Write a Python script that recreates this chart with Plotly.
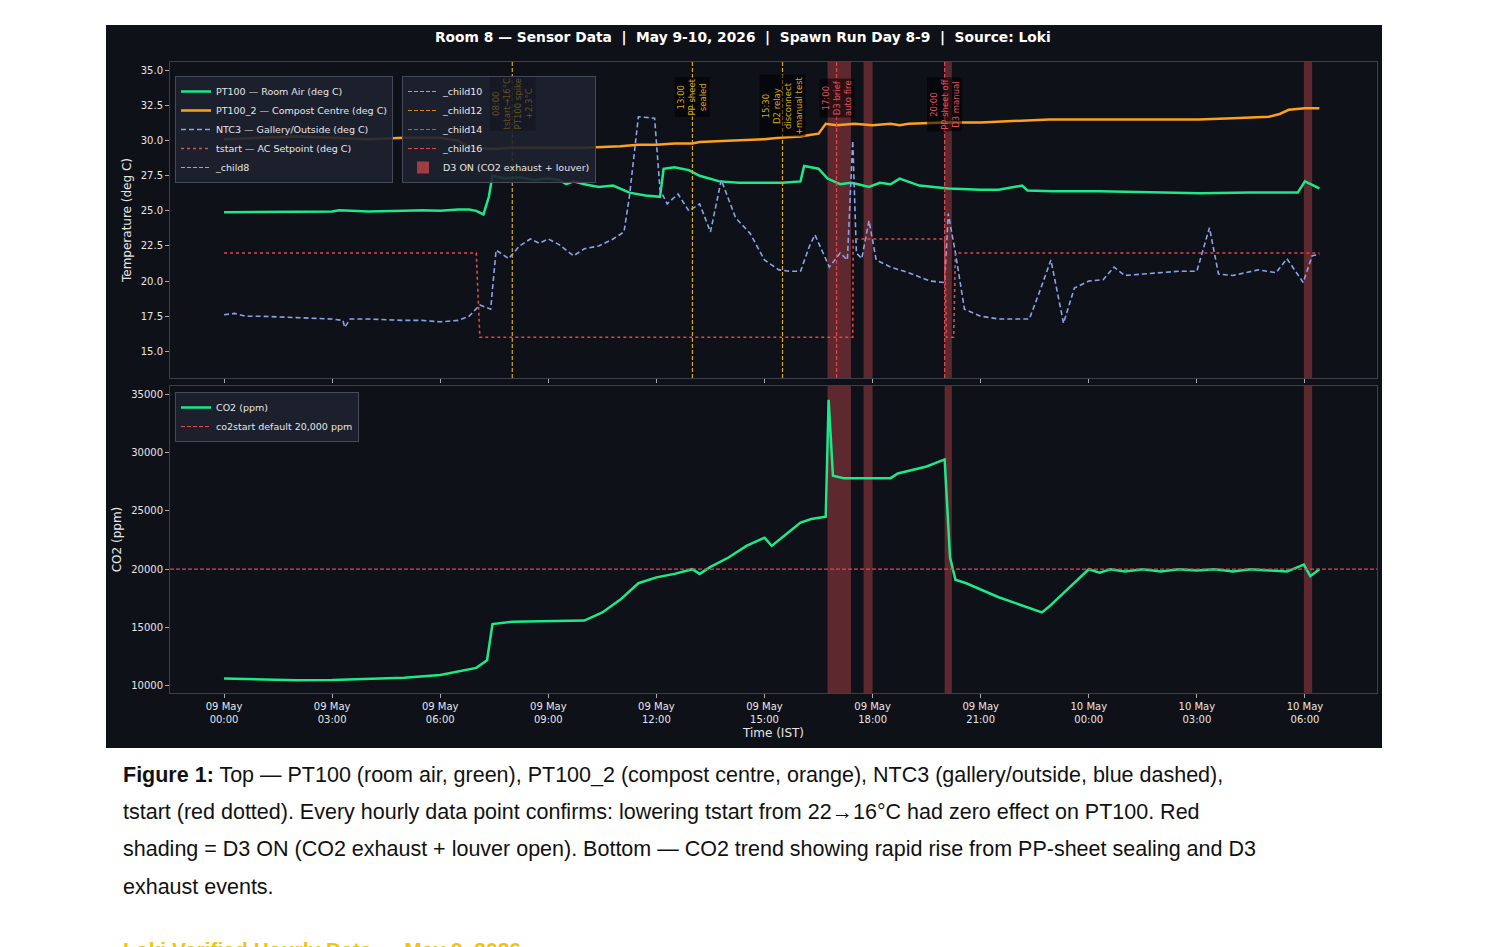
import pandas as pd
import plotly.graph_objects as go

BASE = pd.Timestamp("2026-05-09 00:00")
def T(h):
    return [BASE + pd.Timedelta(hours=x) for x in h]

# ---- data (hour offsets from 09 May 00:00) ----
pt100_h = [0,0.5,1,1.5,2,3,3.2,4,5,5.5,6,6.5,6.8,7.0,7.2,7.35,7.45,7.8,8.2,8.6,9.0,9.3,9.5,9.7,10.0,10.4,10.8,11.25,11.7,12.1,12.2,12.5,12.9,13.2,13.75,14.3,14.9,15.5,16.0,16.1,16.5,16.75,17.1,17.4,17.6,17.9,18.2,18.5,18.75,19.3,20.1,21.0,21.5,22.15,22.3,23.0,24.3,25.7,27.1,28.5,29.8,30.0,30.4]
pt100_v = [24.9,24.9,24.9,24.95,24.9,24.95,25.05,24.95,25.0,25.05,25.0,25.1,25.1,25.0,24.75,26.0,27.5,27.3,27.4,27.2,27.3,27.2,26.9,27.1,26.9,26.7,26.8,26.3,26.1,26.0,28.0,28.1,27.9,27.5,27.1,27.0,27.0,27.0,27.1,28.2,28.0,27.3,26.9,27.0,26.9,26.7,27.0,26.9,27.3,26.8,26.6,26.5,26.5,26.8,26.45,26.4,26.4,26.35,26.25,26.3,26.3,27.1,26.6]

pt100_2_h = [0,1,2,3,4,5,6,6.5,6.8,7.5,8,9,10,11,11.5,12,12.5,13,13.2,14,15,15.4,16,16.25,16.5,16.7,17,17.5,18,18.5,18.75,19,20,21,22,22.9,24,25,26,27.05,28,29,29.3,29.55,30,30.4]
pt100_2_v = [30.1,30.2,30.3,30.2,30.1,30.2,30.2,30.0,29.5,29.4,29.5,29.5,29.5,29.6,29.7,29.7,29.8,29.8,29.9,30.0,30.1,30.2,30.3,30.4,30.5,31.2,31.1,31.2,31.1,31.2,31.1,31.2,31.3,31.3,31.4,31.5,31.5,31.5,31.5,31.5,31.6,31.7,31.9,32.2,32.3,32.3]

ntc3_h = [0,0.3,0.6,1,2,3,3.3,3.35,3.5,4,5,5.5,6,6.5,6.8,7.1,7.4,7.55,7.9,8.2,8.5,8.75,9.0,9.3,9.7,10.0,10.4,10.8,11.1,11.25,11.5,11.95,12.1,12.3,12.6,12.9,13.2,13.5,13.8,14.2,14.6,15.0,15.4,15.7,16.0,16.25,16.4,16.8,17.1,17.3,17.45,17.55,17.7,17.9,18.1,18.5,19.0,19.6,20.0,20.1,20.3,20.55,21.0,21.5,22.0,22.35,22.6,22.95,23.3,23.6,24.0,24.4,24.7,25.0,25.5,26.0,26.5,27.0,27.35,27.6,28.0,28.7,29.2,29.5,29.95,30.2,30.4]
ntc3_v = [17.6,17.7,17.5,17.5,17.4,17.3,17.2,16.7,17.3,17.3,17.2,17.2,17.1,17.2,17.5,18.3,18.0,22.2,21.6,22.5,23.0,22.7,23.0,22.6,21.8,22.3,22.5,23.0,23.5,26.0,31.7,31.6,26.5,25.5,26.2,25.0,25.5,23.5,27.2,24.5,23.4,21.5,20.8,20.7,20.7,22.5,23.3,21.0,22.0,21.5,30.0,22.0,21.6,24.3,21.5,21.0,20.6,20.0,19.9,24.8,22.0,18.0,17.5,17.3,17.3,17.3,19.0,21.5,17.0,19.5,20.0,20.1,21.0,20.4,20.5,20.6,20.7,20.7,23.8,20.5,20.4,20.8,20.6,21.6,19.9,21.8,21.9]

tstart_h = [0,7.0,7.1,17.45,17.46,20.0,20.05,20.25,20.3,30.4]
tstart_v = [22,22,16,16,23,23,16,16,22,22]

co2_h = [0,1,2,3,4,5,6,7,7.3,7.45,8,9,10,10.5,11,11.5,12,12.5,13,13.2,13.5,14,14.5,15,15.2,15.6,16,16.3,16.7,16.78,16.9,17.2,18,18.5,18.7,19.5,20.0,20.15,20.3,20.6,21.5,22.3,22.7,22.9,23.5,24,24.3,24.6,25,25.5,26,26.5,27,27.5,28,28.5,29,29.5,29.97,30.15,30.4]
co2_v = [10650,10600,10500,10520,10600,10700,10950,11550,12200,15300,15500,15550,15600,16300,17400,18800,19300,19600,20000,19600,20200,21000,22000,22700,22000,23000,24000,24300,24500,34500,28000,27800,27800,27800,28200,28800,29400,21000,19100,18800,17600,16700,16300,16800,18500,20000,19700,20000,19800,20000,19800,20000,19900,20000,19800,20000,19900,19800,20400,19400,20000]

tick_h = [0,3,6,9,12,15,18,21,24,27,30]
tick_text = ["09 May<br>00:00","09 May<br>03:00","09 May<br>06:00","09 May<br>09:00","09 May<br>12:00",
             "09 May<br>15:00","09 May<br>18:00","09 May<br>21:00","10 May<br>00:00","10 May<br>03:00","10 May<br>06:00"]
co2_ticks = [10000, 15000, 20000, 25000, 30000, 35000]

event_h = [8.0, 13.0, 15.5, 17.0, 20.0]
event_text = ["08:00<br>tstart→16°C<br>PT100 spike<br>+2.3°C", "13:00<br>PP sheet<br>sealed",
              "15:30<br>D2 relay<br>disconnect<br>+manual test", "17:00<br>D3 brief<br>auto fire",
              "20:00<br>PP sheet off<br>D3 manual"]
event_y = [32.6, 33.1, 32.5, 33.0, 32.6]
d3_start = [16.75, 17.75, 20.0, 29.97]
d3_end = [17.4, 18.0, 20.2, 30.2]

caption = ["<b>Figure 1:</b> Top — PT100 (room air, green), PT100_2 (compost centre, orange), NTC3 (gallery/outside, blue dashed),",
           "tstart (red dotted). Every hourly data point confirms: lowering tstart from 22→16°C had zero effect on PT100. Red",
           "shading = D3 ON (CO2 exhaust + louver open). Bottom — CO2 trend showing rapid rise from PP-sheet sealing and D3",
           "exhaust events."]

# ---- styles ----
BG = "#0e1117"
GREEN = "#1de98b"
ORANGE = "#ffa01c"
BLUE = "#8aa3e8"
RED = "#e0474f"
GOLD = "#d9a91a"
GRID = "#3a3f4a"
TXT = "#e6e6e6"
OFF = 8  # page body margin
W, H = 1489 - OFF, 947 - OFF
px = lambda v: (v - OFF) / W
py = lambda v: 1 - (v - OFF) / H

fig = go.Figure()
fig.add_trace(go.Scatter(x=T(pt100_h), y=pt100_v, mode="lines", line=dict(color=GREEN, width=2.5),
                         name="PT100 — Room Air (deg C)", xaxis="x", yaxis="y", legend="legend"))
fig.add_trace(go.Scatter(x=T(pt100_2_h), y=pt100_2_v, mode="lines", line=dict(color=ORANGE, width=2.5),
                         name="PT100_2 — Compost Centre (deg C)", xaxis="x", yaxis="y", legend="legend"))
fig.add_trace(go.Scatter(x=T(ntc3_h), y=ntc3_v, mode="lines", line=dict(color=BLUE, width=1.6, dash="5px,3px"),
                         name="NTC3 — Gallery/Outside (deg C)", xaxis="x", yaxis="y", legend="legend"))
fig.add_trace(go.Scatter(x=T(tstart_h), y=tstart_v, mode="lines", line=dict(color=RED, width=1.6, dash="dot"),
                         name="tstart — AC Setpoint (deg C)", xaxis="x", yaxis="y", legend="legend"))
for nm, col, lg in [("_child8", GOLD, "legend"), ("_child10", GOLD, "legend2"), ("_child12", "#d9861a", "legend2"),
                    ("_child14", RED, "legend2"), ("_child16", RED, "legend2")]:
    fig.add_trace(go.Scatter(x=[None], y=[None], mode="lines", line=dict(color=col, width=1.2, dash="4px,2px"),
                             name=nm, xaxis="x", yaxis="y", legend=lg))
fig.add_trace(go.Scatter(x=[None], y=[None], mode="markers", marker=dict(symbol="square", size=12, color="rgba(190,70,75,0.8)"),
                         name="D3 ON (CO2 exhaust + louver)", xaxis="x", yaxis="y", legend="legend2"))

fig.add_trace(go.Scatter(x=T(co2_h), y=co2_v, mode="lines", line=dict(color=GREEN, width=2.5),
                         name="CO2 (ppm)", xaxis="x2", yaxis="y2", legend="legend3"))
fig.add_trace(go.Scatter(x=[BASE + pd.Timedelta(hours=-1.5), BASE + pd.Timedelta(hours=32)], y=[20000, 20000],
                         mode="lines", line=dict(color=RED, width=1.2, dash="4px,2px"),
                         name="co2start default 20,000 ppm", xaxis="x2", yaxis="y2", legend="legend3"))

shapes = [dict(type="rect", xref="paper", yref="paper", x0=px(106), x1=px(1382), y0=py(748), y1=py(25),
               fillcolor=BG, line=dict(width=0), layer="below")]
for s, e in zip(d3_start, d3_end):
    for xr, yr in [("x", "y domain"), ("x2", "y2 domain")]:
        shapes.append(dict(type="rect", xref=xr, yref=yr, x0=BASE + pd.Timedelta(hours=s), x1=BASE + pd.Timedelta(hours=e),
                           y0=0, y1=1, fillcolor="rgba(190,70,75,0.45)", line=dict(width=0), layer="below"))
for i, h in enumerate(event_h):
    col = GOLD if h < 16 else RED
    shapes.append(dict(type="line", xref="x", yref="y domain", x0=BASE + pd.Timedelta(hours=h), x1=BASE + pd.Timedelta(hours=h),
                       y0=0, y1=1, line=dict(color=col, width=1.2, dash="4px,2px")))

annotations = []
for h, t, yy in zip(event_h, event_text, event_y):
    col = GOLD if h < 16 else "#e05060"
    op = 0.35 if h == 8.0 else 1
    annotations.append(dict(x=BASE + pd.Timedelta(hours=h), y=yy, xref="x", yref="y", text=t, textangle=-90, showarrow=False,
                            font=dict(size=8.5, color=col, family="DejaVu Sans"), bgcolor="rgba(0,0,0,0.55)",
                            opacity=op, align="center"))
annotations.append(dict(x=px(743), y=py(37), xref="paper", yref="paper", yanchor="middle",
                        text="<b>Room 8 — Sensor Data  |  May 9-10, 2026  |  Spawn Run Day 8-9  |  Source: Loki</b>",
                        showarrow=False, font=dict(size=13.8, color="white", family="DejaVu Sans")))
for i, line in enumerate(caption):
    annotations.append(dict(x=px(121), y=py([775, 812, 849, 887][i]), xref="paper", yref="paper", xanchor="left",
                            yanchor="middle", text=line, showarrow=False, align="left",
                            font=dict(size=21.5, color="#111", family="Liberation Sans")))
annotations.append(dict(x=px(121), y=py(936), xref="paper", yref="paper", xanchor="left", yanchor="top",
                        text="<b>Loki Verified Hourly Data — May 9, 2026</b>", showarrow=False,
                        font=dict(size=21, color="#f5c400", family="Liberation Sans")))

xr = [BASE + pd.Timedelta(hours=-1.5), BASE + pd.Timedelta(hours=32)]
axis_common = dict(showgrid=False, zeroline=False, showline=True, linecolor=GRID, ticks="outside", tickcolor="#aaa",
                   ticklen=4, tickfont=dict(color=TXT, size=10, family="DejaVu Sans"), mirror=True)
leg_common = dict(bgcolor="rgba(30,34,48,0.9)", bordercolor="#444a58", borderwidth=1,
                  font=dict(color=TXT, size=9.5, family="DejaVu Sans"), xanchor="left", yanchor="top",
                  tracegroupgap=0, itemwidth=30)

fig.update_layout(
    width=W, height=H, margin=dict(l=0, r=0, t=0, b=0), paper_bgcolor="white", plot_bgcolor=BG,
    xaxis=dict(domain=[px(170), px(1377)], range=xr, anchor="y", tickvals=T(tick_h), ticktext=[""] * len(tick_h), **axis_common),
    yaxis=dict(domain=[py(378), py(62)], range=[13.1, 35.6], anchor="x", tickvals=[15, 17.5, 20, 22.5, 25, 27.5, 30, 32.5, 35],
               ticktext=["15.0", "17.5", "20.0", "22.5", "25.0", "27.5", "30.0", "32.5", "35.0"],
               title=dict(text="Temperature (deg C)", font=dict(color=TXT, size=12, family="DejaVu Sans"), standoff=6), **axis_common),
    xaxis2=dict(domain=[px(170), px(1377)], range=xr, anchor="y2", tickvals=T(tick_h), ticktext=tick_text,
                title=dict(text="Time (IST)", font=dict(color=TXT, size=12, family="DejaVu Sans"), standoff=4), **axis_common),
    yaxis2=dict(domain=[py(693), py(386)], range=[9400, 35690], anchor="x2",
                tickvals=co2_ticks, ticktext=[str(v) for v in co2_ticks],
                title=dict(text="CO2 (ppm)", font=dict(color=TXT, size=12, family="DejaVu Sans"), standoff=6), **axis_common),
    legend=dict(x=px(175), y=py(76), **leg_common),
    legend2=dict(x=px(402), y=py(76), **leg_common),
    legend3=dict(x=px(175), y=py(392), **leg_common),
    shapes=shapes, annotations=annotations, showlegend=True,
)
fig.write_html("out.html")
